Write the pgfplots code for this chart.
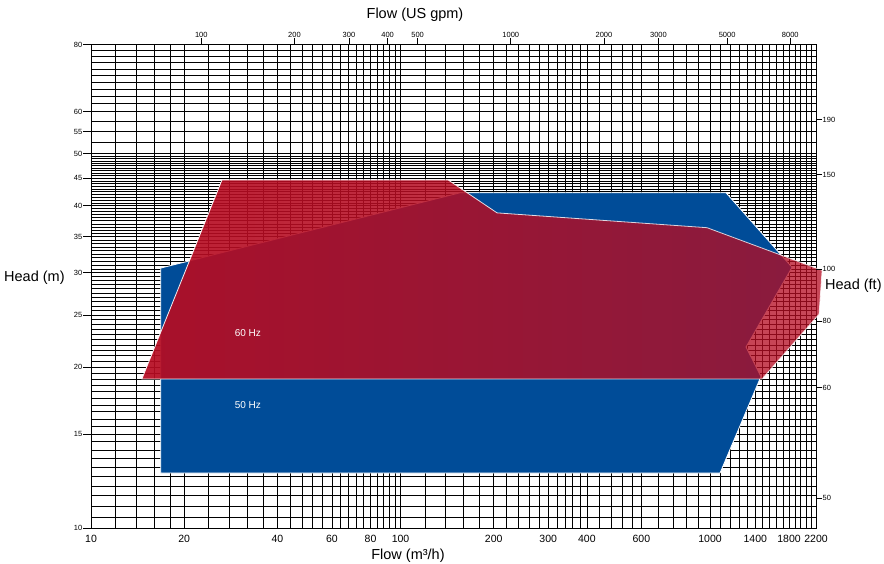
\documentclass[border=0pt]{standalone}
\usepackage{fontspec}
\setmainfont{Liberation Sans}
\usepackage{pgfplots}
\pgfplotsset{compat=1.18}
\usetikzlibrary{fadings}

\definecolor{hzblue}{RGB}{0,76,152}
\definecolor{hzred}{RGB}{182,12,34}
\tikzfading[name=redfade, left color=transparent!7, right color=transparent!25]

\begin{document}
\begin{tikzpicture}[x=1pt,y=1pt]
\useasboundingbox (0,0) rectangle (884,564);

% main chart: grid, m3/h and m scales, envelopes
\begin{axis}[xmode=log, ymode=log, xmin=10, xmax=2200, ymin=10, ymax=80,
  scale only axis, width=725pt, height=483.8pt, at={(91pt,35.7pt)}, anchor=south west,
  clip=false,
  xtick={10,20,40,60,80,100,200,300,400,600,1000,1400,1800,2200},
  xticklabels={10,20,40,60,80,100,200,300,400,600,1000,1400,1800,2200},
  minor xtick={12,14,16,18,24,28,32,36,44,48,52,56,64,68,72,76,84,88,92,96,
    120,140,160,180,220,240,260,280,320,340,360,380,440,480,520,560,
    680,760,840,920,1080,1160,1240,1320,1480,1560,1640,1720,1880,1960,2040,2120},
  ytick={10,15,20,25,30,35,40,45,50,55,60,80},
  yticklabels={10,15,20,25,30,35,40,45,50,55,60,80},
  minor ytick={10,10.5,...,50,52.5,57.5,62,64,...,78},
  grid=both,
  major grid style={black, line width=0.7pt},
  minor grid style={black, line width=0.7pt},
  axis line style={black, line width=0.7pt},
  tick align=outside, xtick pos=bottom, ytick pos=left,
  major tick length=8pt, minor tick length=0pt,
  xtick style={draw=none}, ytick style={black, line width=0.7pt},
  xticklabel style={font=\fontsize{10.5}{10.5}\selectfont, inner sep=1pt, yshift=2pt},
  yticklabel style={font=\fontsize{7.5}{8}\selectfont, inner sep=0.5pt},
]
% 50 Hz
\addplot[fill=hzblue, draw=white, line width=0.8pt] coordinates {
  (16.8,12.68) (1077,12.68) (1460,19.2) (1307,21.8) (1841,30.7)
  (1126,42.3) (156,42.3) (16.8,30.6)} -- cycle;
% 60 Hz
\addplot[fill=hzred, draw=white, line width=0.8pt, path fading=redfade, fit fading=true] coordinates {
  (14.6,19) (26.5,44.7) (142.4,44.7) (205,38.8) (978,36.4)
  (2301,30.3) (2250,25.1) (1472,19)} -- cycle;
\node[anchor=west, text=white, font=\fontsize{10}{10}\selectfont] at (axis cs:28.4,23.15) {60 Hz};
\node[anchor=west, text=white, font=\fontsize{10}{10}\selectfont] at (axis cs:28.4,16.99) {50 Hz};
\end{axis}

% US gpm scale on top
\begin{axis}[xmode=log, ymode=log, xmin=10, xmax=2200, ymin=10, ymax=80,
  scale only axis, width=725pt, height=483.8pt, at={(91pt,35.7pt)}, anchor=south west,
  axis x line*=top, axis y line=none, ytick=\empty,
  xtick={22.71,45.42,68.14,90.85,113.56,227.12,454.25,681.37,1135.6,1817},
  xticklabels={100,200,300,400,500,1000,2000,3000,5000,8000},
  tick align=outside, major tick length=6pt, minor tick length=0pt,
  xtick style={black, line width=0.7pt}, axis line style={draw=none},
  xticklabel style={font=\fontsize{7.5}{8}\selectfont, inner sep=1pt},
]
\end{axis}

% ft scale on the right
\begin{axis}[xmode=log, ymode=log, xmin=10, xmax=2200, ymin=10, ymax=80,
  scale only axis, width=725pt, height=483.8pt, at={(91pt,35.7pt)}, anchor=south west,
  axis y line*=right, axis x line=none, xtick=\empty,
  ytick={11.39,18.29,24.38,30.48,45.72,57.91},
  yticklabels={50,60,80,100,150,190},
  tick align=outside, major tick length=6pt, minor tick length=0pt,
  ytick style={black, line width=0.7pt}, axis line style={draw=none},
  yticklabel style={font=\fontsize{7.5}{8}\selectfont, inner sep=0.5pt},
]
\end{axis}

\node[font=\fontsize{14.5}{15}\selectfont] at (415,549) {Flow (US gpm)};
\node[font=\fontsize{14.5}{15}\selectfont] at (408,8) {Flow (m³/h)};
\node[anchor=west, inner sep=0pt, font=\fontsize{14.5}{15}\selectfont] at (4,286) {Head (m)};
\node[anchor=west, inner sep=0pt, font=\fontsize{14.5}{15}\selectfont] at (825,278) {Head (ft)};
\end{tikzpicture}
\end{document}
